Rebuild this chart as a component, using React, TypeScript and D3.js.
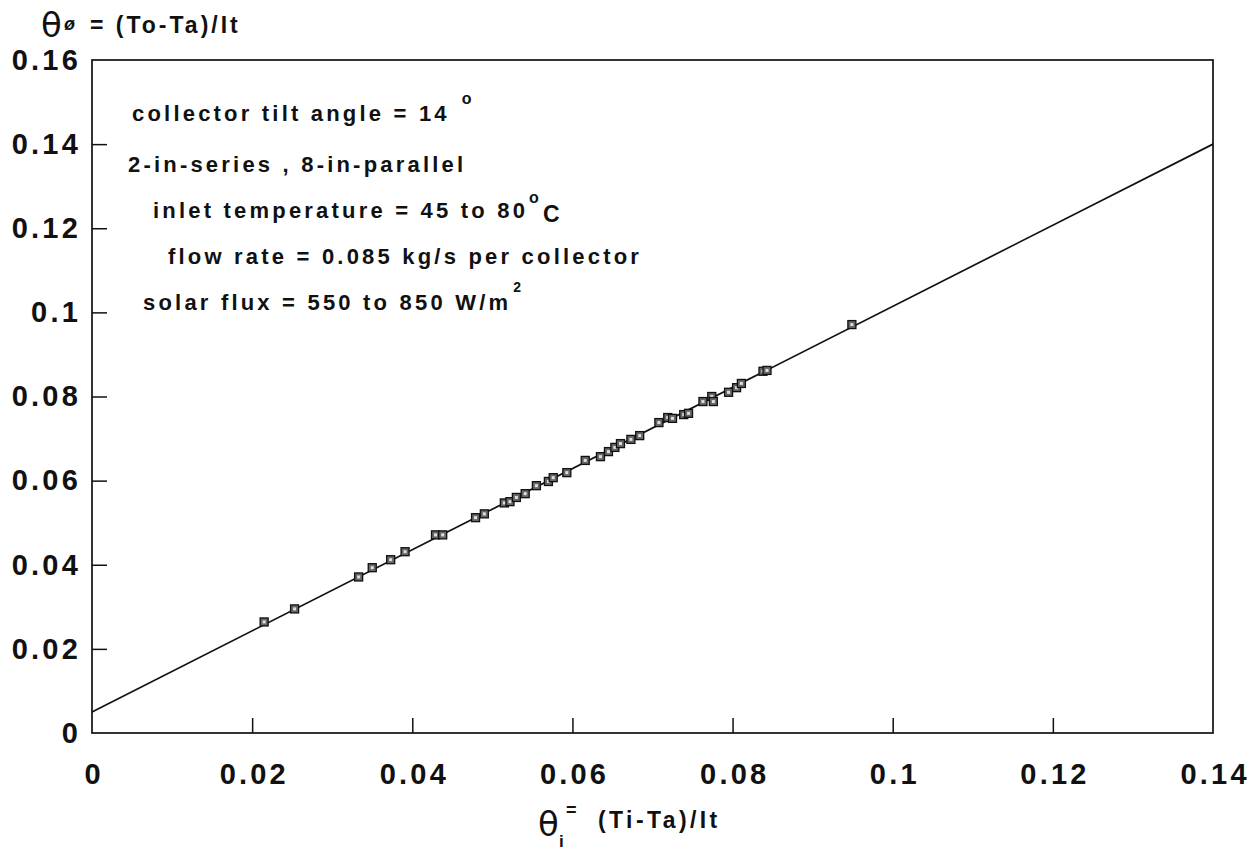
import React, { useEffect, useRef } from "react";
import * as d3 from "d3";

const WIDTH = 1259;
const HEIGHT = 853;

// measured points (theta_i, theta_o)
const thetaI = [
  0.0215, 0.0253, 0.0333, 0.035, 0.0373, 0.0391, 0.0429, 0.0438, 0.0479, 0.049,
  0.0515, 0.0522, 0.053, 0.0541, 0.0555, 0.057, 0.0576, 0.0593, 0.0616, 0.0635,
  0.0645, 0.0653, 0.066, 0.0673, 0.0684, 0.0708, 0.0719, 0.0725, 0.0739, 0.0745,
  0.0763, 0.0774, 0.0776, 0.0795, 0.0805, 0.0811, 0.0838, 0.0843, 0.0949,
];
const thetaO = [
  0.0264, 0.0295, 0.0371, 0.0393, 0.0412, 0.0431, 0.0471, 0.0471, 0.0512, 0.0521,
  0.0547, 0.055, 0.056, 0.0569, 0.0588, 0.0598, 0.0607, 0.0619, 0.0648, 0.0657,
  0.0669, 0.0679, 0.0688, 0.0698, 0.0707, 0.0738, 0.075, 0.0748, 0.0757, 0.076,
  0.0788, 0.08, 0.0788, 0.081, 0.0821, 0.0831, 0.086, 0.0862, 0.0971,
];

// fitted line end points
const fitX = [0, 0.14];
const fitY = [0.005, 0.14];

const xTicks = [0, 0.02, 0.04, 0.06, 0.08, 0.1, 0.12, 0.14];
const yTicks = [0, 0.02, 0.04, 0.06, 0.08, 0.1, 0.12, 0.14, 0.16];

const notes = [
  "collector tilt angle = 14",
  "2-in-series , 8-in-parallel",
  "inlet temperature = 45 to 80",
  "flow rate = 0.085 kg/s per collector",
  "solar flux = 550 to 850 W/m",
];

const FONT = "'Liberation Sans', Arial, sans-serif";

export default function App() {
  const ref = useRef<SVGSVGElement>(null);

  useEffect(() => {
    const svg = d3.select(ref.current);
    svg.selectAll("*").remove();

    const margin = { top: 60, right: 46, bottom: 120, left: 92 };
    const width = WIDTH - margin.left - margin.right;
    const height = HEIGHT - margin.top - margin.bottom;

    const x = d3.scaleLinear().domain([0, 0.14]).range([0, width]);
    const y = d3.scaleLinear().domain([0, 0.16]).range([height, 0]);

    const g = svg
      .append("g")
      .attr("transform", `translate(${margin.left},${margin.top})`);

    // frame
    g.append("rect")
      .attr("width", width)
      .attr("height", height)
      .attr("fill", "none")
      .attr("stroke", "#111")
      .attr("stroke-width", 1.7);

    // axes, ticks pointing inward
    const fmt = (d: d3.NumberValue) => String(+d);
    const xAxis = g
      .append("g")
      .attr("transform", `translate(0,${height})`)
      .call(d3.axisBottom(x).tickValues(xTicks).tickSize(-15).tickPadding(30).tickFormat(fmt));
    const yAxis = g
      .append("g")
      .call(d3.axisLeft(y).tickValues(yTicks).tickSize(-15).tickPadding(11).tickFormat(fmt));

    [xAxis, yAxis].forEach((a) => {
      a.select(".domain").remove();
      a.selectAll(".tick line").attr("stroke", "#111").attr("stroke-width", 1.5);
      a.selectAll(".tick text")
        .attr("fill", "#111")
        .attr("font-family", FONT)
        .attr("font-size", 29)
        .attr("font-weight", "bold")
        .attr("letter-spacing", 3.2);
    });
    xAxis.selectAll(".tick text").attr("dx", 1.6);
    xAxis.selectAll(".tick line").filter((d: any) => d === 0 || d === 0.14).remove();
    yAxis.selectAll(".tick line").filter((d: any) => d === 0 || d === 0.16).remove();

    // fitted line
    const line = d3
      .line<number>()
      .x((d) => x(d))
      .y((_, i) => y(fitY[i]));
    g.append("path")
      .datum(fitX)
      .attr("fill", "none")
      .attr("stroke", "#111")
      .attr("stroke-width", 1.7)
      .attr("d", line);

    // data markers
    const s = 8;
    const pts = g
      .selectAll("g.pt")
      .data(thetaI)
      .join("g")
      .attr("class", "pt")
      .attr("transform", (d, i) => `translate(${x(d)},${y(thetaO[i])})`);
    pts
      .append("rect")
      .attr("x", -s / 2)
      .attr("y", -s / 2)
      .attr("width", s)
      .attr("height", s)
      .attr("fill", "#666")
      .attr("stroke", "#111")
      .attr("stroke-width", 1.3);
    pts
      .append("rect")
      .attr("x", -1.5)
      .attr("y", -1.5)
      .attr("width", 3)
      .attr("height", 3)
      .attr("fill", "#ddd");

    // annotation block
    const noteX = [132, 128, 153, 168, 143];
    const noteY = [121, 172, 218, 264, 310];
    const txt = svg
      .append("g")
      .attr("font-family", FONT)
      .attr("font-size", 22)
      .attr("font-weight", "bold")
      .attr("fill", "#111");
    const lines = notes.map((n, i) =>
      txt
        .append("text")
        .attr("x", noteX[i])
        .attr("y", noteY[i])
        .attr("letter-spacing", 3.2)
        .text(n)
    );
    const endOf = (i: number) => {
      const node = lines[i].node() as SVGTextElement;
      return noteX[i] + node.getComputedTextLength();
    };
    txt.append("text").attr("x", endOf(0) + 12).attr("y", 104).attr("font-size", 16).text("o");
    txt.append("text").attr("x", endOf(2) + 1).attr("y", 203).attr("font-size", 16).text("o");
    txt.append("text").attr("x", endOf(2) + 15).attr("y", 222).attr("font-size", 23).text("C");
    txt.append("text").attr("x", endOf(4) + 2).attr("y", 292).attr("font-size", 14).text("2");

    // y title
    const yt = svg.append("g").attr("font-family", FONT).attr("fill", "#111");
    yt.append("text")
      .attr("x", 41)
      .attr("y", 37)
      .attr("font-size", 34)
      .attr("font-family", "'DejaVu Sans'")
      .text("θ");
    yt.append("text")
      .attr("x", 64)
      .attr("y", 30)
      .attr("font-size", 18)
      .attr("font-weight", "bold")
      .attr("font-style", "italic")
      .text("ø");
    yt.append("text")
      .attr("x", 90)
      .attr("y", 33)
      .attr("font-size", 23)
      .attr("font-weight", "bold")
      .attr("letter-spacing", 3)
      .text("= (To-Ta)/It");

    // x title
    const xt = svg.append("g").attr("font-family", FONT).attr("fill", "#111");
    xt.append("text")
      .attr("x", 538)
      .attr("y", 836)
      .attr("font-size", 34)
      .attr("font-family", "'DejaVu Sans'")
      .text("θ");
    xt.append("text").attr("x", 559).attr("y", 847).attr("font-size", 17).attr("font-weight", "bold").text("i");
    xt.append("text").attr("x", 566).attr("y", 816).attr("font-size", 18).attr("font-weight", "bold").text("=");
    xt.append("text")
      .attr("x", 598)
      .attr("y", 828)
      .attr("font-size", 23)
      .attr("font-weight", "bold")
      .attr("letter-spacing", 3.4)
      .text("(Ti-Ta)/It");
  }, []);

  return (
    <svg
      ref={ref}
      width={WIDTH}
      height={HEIGHT}
      style={{ position: "absolute", left: 0, top: 0, background: "#fff" }}
    />
  );
}
